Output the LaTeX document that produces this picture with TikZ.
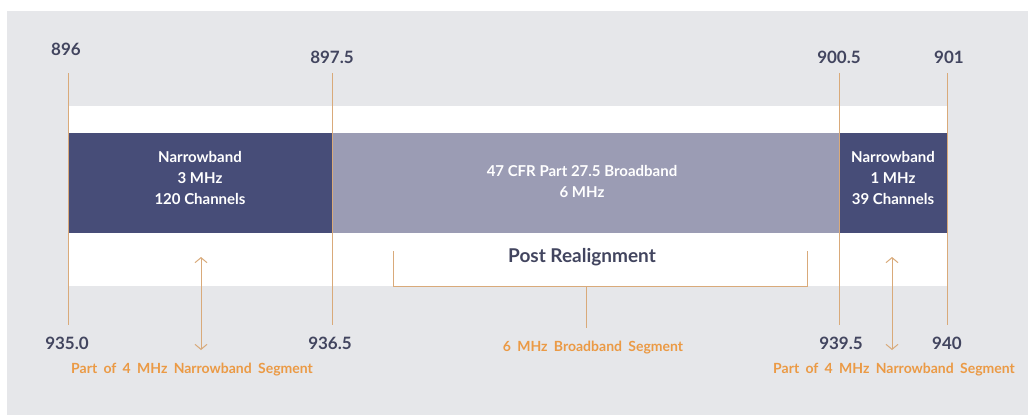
\documentclass[tikz,border=0pt]{standalone}
\usepackage{fontspec}
\setmainfont{Lato}
\usetikzlibrary{arrows.meta}
\definecolor{bgc}{HTML}{E6E7EA}
\definecolor{navy}{HTML}{474D78}
\definecolor{lav}{HTML}{9B9CB4}
\definecolor{tanc}{HTML}{D9AA7A}
\definecolor{orng}{HTML}{EB9A45}
\definecolor{numc}{HTML}{42455F}
\newcommand{\orfont}{\bfseries\fontsize{14}{15}\selectfont\spaceskip=0.45em plus 0.1em\relax}
\begin{document}
\begin{tikzpicture}[x=1pt,y=-1pt,
  bandbox/.style={draw=none,inner sep=0pt,anchor=north west,text=white,align=center,
    font=\bfseries\fontsize{15}{21}\selectfont},
  numlab/.style={text=numc,font=\bfseries\fontsize{17}{18}\selectfont,inner sep=0pt},
  orlab/.style={text=orng,font=\orfont,inner sep=0pt},
  vline/.style={draw=tanc,line width=1pt},
  dbl/.style={draw=tanc,line width=1pt,{Straight Barb[length=5pt,width=12pt]}-{Straight Barb[length=5pt,width=12pt]}}
]
\useasboundingbox (0,0) rectangle (1028,415);
\fill[white] (0,0) rectangle (1028,415);
\fill[bgc] (7,11) rectangle (1028,415);
\fill[white] (68,106) rectangle (947,286);

% bands
\node[bandbox,fill=navy,minimum width=264pt,minimum height=100pt] (nbL) at (68,133) {};
\node[bandbox,fill=lav,minimum width=507pt,minimum height=100pt] (bb) at (332,133) {};
\node[bandbox,fill=navy,minimum width=108pt,minimum height=100pt] (nbR) at (839,133) {};
\node[bandbox,anchor=center] (tL) at (200,178) {Narrowband\\3 MHz\\120 Channels};
\node[bandbox,anchor=center] (tM) at (582,181) {47 CFR Part 27.5 Broadband\\6 MHz};
\node[bandbox,anchor=center] (tR) at (893,178) {Narrowband\\1 MHz\\39 Channels};

% top labels
\node[numlab] (n896) at (66,49) {896};
\node[numlab] (n8975) at (332,57) {897.5};
\node[numlab] (n9005) at (839,57) {900.5};
\node[numlab] (n901) at (949,57) {901};
% bottom labels
\node[numlab] (n935) at (67,343) {935.0};
\node[numlab] (n9365) at (330,343) {936.5};
\node[numlab] (n9395) at (841,343) {939.5};
\node[numlab] (n940) at (947,343) {940};

% vertical lines
\coordinate (t1) at (68,73);  \coordinate (b1) at (68,325);
\coordinate (t2) at (332,73); \coordinate (b2) at (332,325);
\coordinate (t3) at (839,73); \coordinate (b3) at (839,325);
\coordinate (t4) at (947,73); \coordinate (b4) at (947,325);
\draw[vline] (t1) -- (b1);
\draw[vline] (t2) -- (b2);
\draw[vline] (t3) -- (b3);
\draw[vline] (t4) -- (b4);

% post realignment bracket
\node[text=numc,font=\bfseries\fontsize{19}{20}\selectfont,inner sep=0pt] (post) at (582,257) {Post Realignment};
\coordinate (brL) at (393,251);
\coordinate (brR) at (807,251);
\coordinate (brM) at (586,286);
\coordinate (brS) at (586,328);
\draw[vline] (brL) |- (brR |- brM) -- (brR);
\draw[vline] (brM) -- (brS);

% arrows
\coordinate (a1t) at (201,257); \coordinate (a1b) at (201,350);
\coordinate (a2t) at (892,257); \coordinate (a2b) at (892,350);
\draw[dbl] (a1t) -- (a1b);
\draw[dbl] (a2t) -- (a2b);

% orange labels
\node[orlab] (segL) at (192,370) {Part of 4 MHz Narrowband Segment};
\node[orlab] (segM) at (593,348) {6 MHz Broadband Segment};
\node[orlab] (segR) at (894,370) {Part of 4 MHz Narrowband Segment};
\end{tikzpicture}
\end{document}
